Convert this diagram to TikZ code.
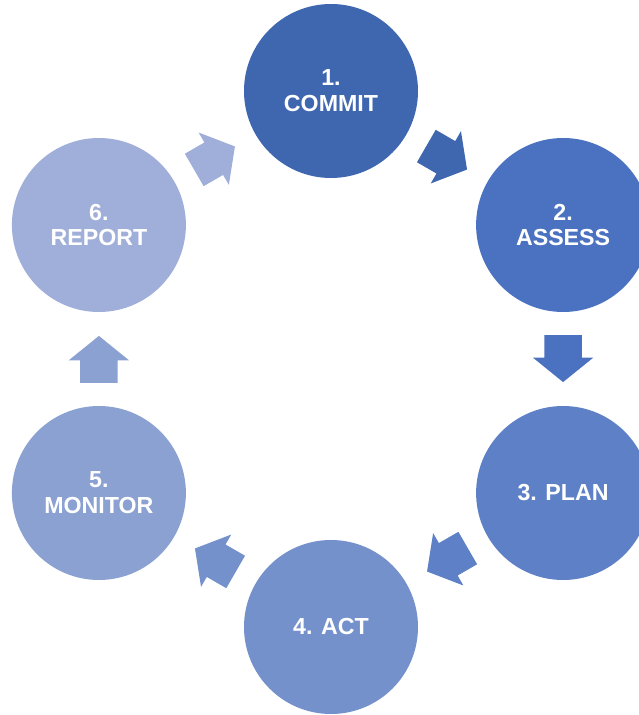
\documentclass[tikz,border=0pt]{standalone}
\usepackage{fontspec}
\setmainfont{Liberation Sans}
\usetikzlibrary{calc, shapes.arrows}
\definecolor{commitblue}{HTML}{3F67B0}
\definecolor{assessblue}{HTML}{4A72C0}
\definecolor{planblue}{HTML}{5E80C6}
\definecolor{actblue}{HTML}{7491CB}
\definecolor{monitorblue}{HTML}{8AA1D2}
\definecolor{reportblue}{HTML}{A0AFD9}
\tikzset{
  stage/.style={circle, fill=#1, minimum size=5.22cm, inner sep=0pt, text=white,
    font=\fontsize{19.8}{22}\selectfont\bfseries, align=center},
  flow/.style={single arrow, fill=#1, inner xsep=0pt, inner ysep=0.555cm,
    minimum height=1.41cm, single arrow head extend=0.345cm, single arrow tip angle=102}
}

\begin{document}
\begin{tikzpicture}
\useasboundingbox (-9.93,-10.68) rectangle (9.24,10.77);
% the six stages round the cycle
\foreach \name/\ang/\col/\txt in {commit/90/commitblue/{1.\\COMMIT},
    assess/30/assessblue/{2.\\ASSESS}, plan/-30/planblue/{3. PLAN},
    act/-90/actblue/{4. ACT}, monitor/-150/monitorblue/{5.\\MONITOR},
    report/150/reportblue/{6.\\REPORT}}
  \node[stage=\col] (\name) at (\ang:8.04) {\txt};
% block arrows between them
\foreach \from/\to/\dir/\col in {commit/assess/-30/commitblue,
    assess/plan/-90/assessblue, plan/act/-150/planblue,
    act/monitor/150/actblue, monitor/report/90/monitorblue,
    report/commit/30/reportblue}
  \node[flow=\col, rotate=\dir] (\from-\to) at ($(\from)!.5!(\to)+(\dir:-0.24)$) {};
\end{tikzpicture}
\end{document}
